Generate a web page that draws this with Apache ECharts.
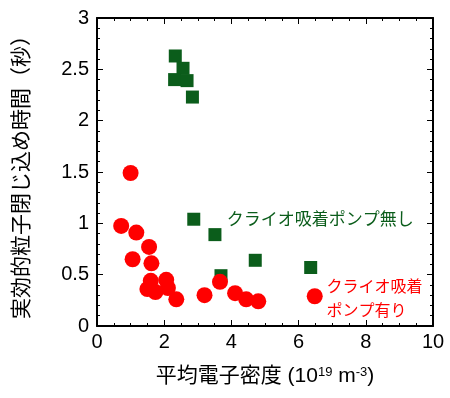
<!DOCTYPE html>
<html>
<head>
<meta charset="utf-8">
<script src="https://cdn.jsdelivr.net/npm/echarts@6/dist/echarts.min.js"></script>
<style>
  html, body { margin: 0; padding: 0; background: #fff; }
  #chart { width: 450px; height: 398px; }
</style>
</head>
<body>
<div id="chart"></div>
<script>
  // without cryo pump (green squares)
  var noPumpX = [2.33, 2.56, 2.31, 2.68, 2.84, 2.88, 3.51, 3.69, 4.71, 6.36]
  var noPumpY = [2.63, 2.51, 2.40, 2.39, 2.23, 1.04, 0.89, 0.49, 0.64, 0.57]
  // with cryo pump (red circles)
  var pumpX = [1.00, 0.72, 1.17, 1.55, 1.06, 1.62, 1.60, 2.06, 1.50, 1.74, 2.11, 2.36, 3.20, 3.66, 4.11, 4.44, 4.80, 6.48]
  var pumpY = [1.49, 0.975, 0.91, 0.77, 0.65, 0.61, 0.44, 0.45, 0.36, 0.33, 0.37, 0.26, 0.30, 0.43, 0.32, 0.26, 0.24, 0.29]

  var noPumpName = 'クライオ吸着ポンプ無し'
  var pumpName = 'クライオ吸着\nポンプ有り'
  var xName = '平均電子密度 (10{sup|19} m{sup|-3})'
  var yName = '実効的粒子閉じ込め時間（秒）'

  var font = '"Liberation Sans", "Noto Sans CJK JP", sans-serif'
  var green = '#0b5d1b'
  var red = '#ff0000'

  function zip (xs, ys) {
    return xs.map((x, i) => [x, ys[i]])
  }

  // one side of the box frame, ticks pointing inward
  function side (pos, min, max, interval, minorSplit) {
    return {
      type: 'value', min: min, max: max, interval: interval, position: pos,
      axisLine: { show: true, onZero: false, lineStyle: { color: '#000', width: 2 } },
      axisTick: { show: true, inside: true, length: 6 },
      minorTick: { show: true, splitNumber: minorSplit, length: 3 },
      axisLabel: { show: false },
      splitLine: { show: false }
    }
  }

  var xBottom = side('bottom', 0, 10, 2, 4)
  xBottom.name = xName
  xBottom.nameLocation = 'middle'
  xBottom.nameGap = 40
  xBottom.nameTextStyle = {
    fontSize: 21, color: '#000', fontFamily: font,
    rich: { sup: { fontSize: 13, verticalAlign: 'top', color: '#000', fontFamily: font, padding: [0, 0, 6, 0] } }
  }
  xBottom.axisLabel = { show: true, fontSize: 20, color: '#000', margin: 6, fontFamily: font }

  var yLeft = side('left', 0, 3, 0.5, 5)
  yLeft.name = yName
  yLeft.nameLocation = 'middle'
  yLeft.nameGap = 64
  yLeft.nameRotate = 90
  yLeft.nameTextStyle = { fontSize: 21, color: '#000', fontFamily: font }
  yLeft.axisLabel = { show: true, fontSize: 20, color: '#000', margin: 8, fontFamily: font }

  var chart = echarts.init(document.getElementById('chart'))
  chart.setOption({
    animation: false,
    grid: { left: 97, top: 18, right: 17, bottom: 72 },
    xAxis: [xBottom, side('top', 0, 10, 2, 4)],
    yAxis: [yLeft, side('right', 0, 3, 0.5, 5)],
    series: [
      {
        name: noPumpName,
        type: 'scatter',
        symbol: 'rect',
        symbolSize: 13,
        itemStyle: { color: green, opacity: 1 },
        data: zip(noPumpX, noPumpY),
        markPoint: {
          symbolSize: 0,
          data: [{ coord: [3.86, 1.03] }],
          label: {
            show: true, position: 'right', distance: 0,
            formatter: noPumpName, color: green, fontSize: 17, fontFamily: font
          }
        }
      },
      {
        name: pumpName,
        type: 'scatter',
        symbol: 'circle',
        symbolSize: 16,
        itemStyle: { color: red, opacity: 1 },
        data: zip(pumpX, pumpY),
        markPoint: {
          symbolSize: 0,
          data: [{ coord: [6.83, 0.255] }],
          label: {
            show: true, position: 'right', distance: 0, align: 'left',
            lineHeight: 24,
            formatter: pumpName, color: red, fontSize: 16, fontFamily: font
          }
        }
      }
    ]
  })
</script>
</body>
</html>
